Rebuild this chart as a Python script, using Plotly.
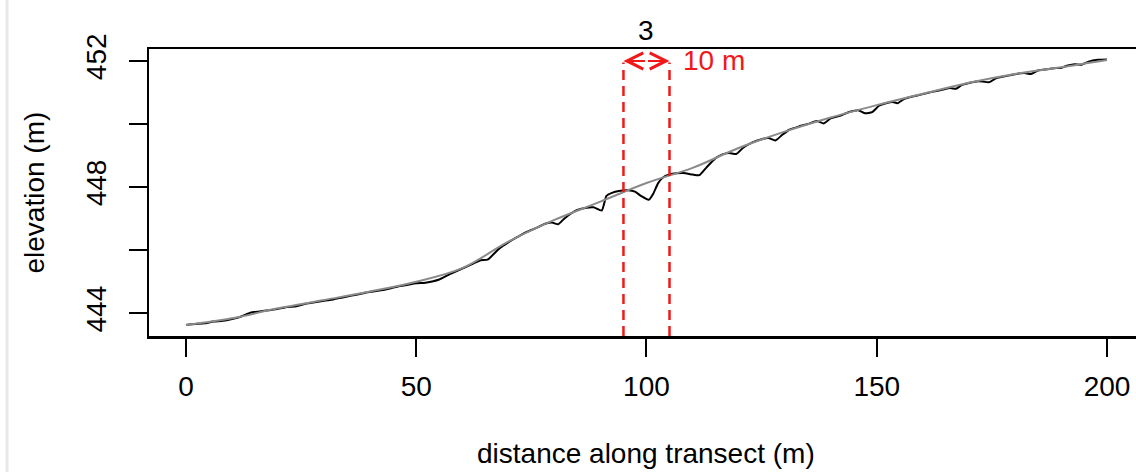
import plotly.graph_objects as go

# Surveyed elevation profile along the transect (distance in m, elevation in m)
profile_dist = [0, 2, 4, 6, 8, 10, 12, 14, 16, 18, 20, 22, 24, 26, 28, 30, 32, 34, 36, 38,
                40, 42, 44, 46, 48, 50, 52, 55, 57, 60, 62, 64, 65.5, 68, 70, 72, 74, 76,
                78, 79.5, 80.8, 82, 83, 85, 87, 88.5, 90.3, 91.3, 92.5, 94, 96, 97.5, 98.8,
                100.5, 101.5, 102.5, 103.5, 105, 106.5, 108, 110, 111.5, 113, 115, 116.5,
                118, 119.5, 121, 123, 125, 126.5, 128, 129.5, 131, 133, 135, 137, 138.5,
                140, 142, 144, 146, 147.5, 149, 150.5, 152, 153.5, 154.5, 156, 158, 160,
                162, 164, 166, 167.2, 168.5, 170, 172, 174.5, 176, 178, 180, 182, 183.5,
                185, 187, 189, 190, 191.5, 193, 194.5, 196, 198, 200]
profile_elev = [443.63, 443.66, 443.68, 443.74, 443.76, 443.82, 443.90, 444.02, 444.06, 444.10,
                444.14, 444.20, 444.22, 444.30, 444.35, 444.40, 444.44, 444.50, 444.56, 444.62,
                444.68, 444.72, 444.78, 444.85, 444.90, 444.95, 444.97, 445.07, 445.22, 445.42,
                445.55, 445.68, 445.70, 446.05, 446.25, 446.42, 446.58, 446.70,
                446.84, 446.88, 446.82, 446.98, 447.10, 447.28, 447.35, 447.36, 447.26, 447.72,
                447.82, 447.88, 447.90, 447.86, 447.72,
                447.60, 447.80, 448.12, 448.30, 448.40, 448.44, 448.45, 448.40, 448.38, 448.62,
                448.92, 449.04, 449.08, 449.05, 449.25, 449.42, 449.52, 449.56, 449.48, 449.66,
                449.82, 449.92, 450.00, 450.10, 450.02, 450.18, 450.26, 450.38, 450.44, 450.34,
                450.38, 450.58, 450.66, 450.70, 450.66, 450.80, 450.88, 450.95, 451.02, 451.08,
                451.14, 451.12, 451.24, 451.30, 451.36, 451.33, 451.46, 451.52, 451.58, 451.62,
                451.59, 451.70, 451.74, 451.78, 451.78, 451.86, 451.90, 451.88, 451.98, 452.04,
                452.05]

# Smoothed trend of the profile
trend_dist = [0, 10, 20, 30, 40, 50, 60, 70, 80, 90, 100, 110, 120, 130, 140, 150, 160,
              170, 180, 190, 200]
trend_elev = [443.63, 443.84, 444.16, 444.42, 444.69, 445.00, 445.43, 446.27, 446.96, 447.54,
              448.13, 448.61, 449.24, 449.76, 450.21, 450.60, 450.96, 451.31, 451.59, 451.80,
              452.03]

# Analysis window and its annotation
window = [95, 105]
window_label = "10 m"
marker_y = 452
panel_label = "3"

x_ticks = [0, 50, 100, 150, 200]
y_ticks = [444, 446, 448, 450, 452]
y_ticktext = ["444", "", "448", "", "452"]

x_range = [-8.03, 206.3]
y_range = [443.28, 452.38]

FONT = "Liberation Sans, Arial, sans-serif"
RED = "#F01818"
W, H = 1136, 472
L, R, T, B = 149, 0, 49, 136
PW, PH = W - L - R, H - T - B


def px_x(px):
    return (px - L) / PW


def px_y(py):
    return (H - B - py) / PH


fig = go.Figure()

fig.add_trace(go.Scatter(x=profile_dist, y=profile_elev, mode="lines",
                         line=dict(color="black", width=2, shape="spline", smoothing=0.5),
                         hoverinfo="skip", showlegend=False))
fig.add_trace(go.Scatter(x=trend_dist, y=trend_elev, mode="lines",
                         line=dict(color="#8a8a8a", width=2, shape="spline", smoothing=1.0),
                         hoverinfo="skip", showlegend=False))

# dashed window edges, from the bottom of the panel up to the arrow
for wx in window:
    fig.add_trace(go.Scatter(x=[wx, wx], y=[y_range[0], marker_y - 0.05], mode="lines",
                             line=dict(color=RED, width=2.5, dash="10px,6px"),
                             hoverinfo="skip", showlegend=False))

mid = sum(window) / 2
annotations = []
for wx in window:
    annotations.append(dict(x=wx, y=marker_y, ax=mid, ay=marker_y, xref="x", yref="y",
                            axref="x", ayref="y", text="", showarrow=True, arrowhead=5,
                            arrowsize=1.6, arrowwidth=2, arrowcolor=RED, standoff=0,
                            startstandoff=0))
annotations.append(dict(x=107.6, y=marker_y, xref="x", yref="y", text=window_label,
                        showarrow=False, xanchor="left", yanchor="middle",
                        font=dict(family=FONT, size=28, color=RED)))
annotations.append(dict(x=mid, y=px_y(30), xref="x", yref="paper", text=panel_label,
                        showarrow=False, xanchor="center", yanchor="middle",
                        font=dict(family=FONT, size=28, color="black")))
annotations.append(dict(x=mid, y=px_y(453), xref="x", yref="paper",
                        text="distance along transect (m)", showarrow=False,
                        xanchor="center", yanchor="middle",
                        font=dict(family=FONT, size=28, color="black")))
annotations.append(dict(x=px_x(34), y=0.5, xref="paper", yref="paper",
                        text="elevation (m)", textangle=-90, showarrow=False,
                        xanchor="center", yanchor="middle",
                        font=dict(family=FONT, size=28, color="black")))

shapes = [dict(type="line", xref="paper", yref="paper", x0=px_x(7), x1=px_x(7),
               y0=px_y(H), y1=px_y(0), line=dict(color="#e8e8e8", width=3))]

fig.update_layout(
    width=W, height=H,
    margin=dict(l=L, r=R, t=T, b=B, pad=0),
    paper_bgcolor="white", plot_bgcolor="white",
    font=dict(family=FONT, size=28, color="black"),
    showlegend=False,
    annotations=annotations,
    shapes=shapes,
    xaxis=dict(range=x_range, tickvals=x_ticks, ticks="outside", ticklen=18, tickwidth=2,
               tickcolor="black", showline=True, linecolor="black", linewidth=2.5,
               mirror=True, showgrid=False, zeroline=False, ticklabelstandoff=6,
               tickfont=dict(family=FONT, size=28, color="black")),
    yaxis=dict(range=y_range, tickvals=y_ticks, ticktext=y_ticktext, ticks="outside",
               ticklen=18, tickwidth=2, tickcolor="black", showline=True,
               linecolor="black", linewidth=2.5, mirror=False, showgrid=False,
               zeroline=False, tickangle=-90, ticklabelstandoff=11,
               tickfont=dict(family=FONT, size=28, color="black")),
)

fig.write_html("out.html", config={"displayModeBar": False, "staticPlot": True})
